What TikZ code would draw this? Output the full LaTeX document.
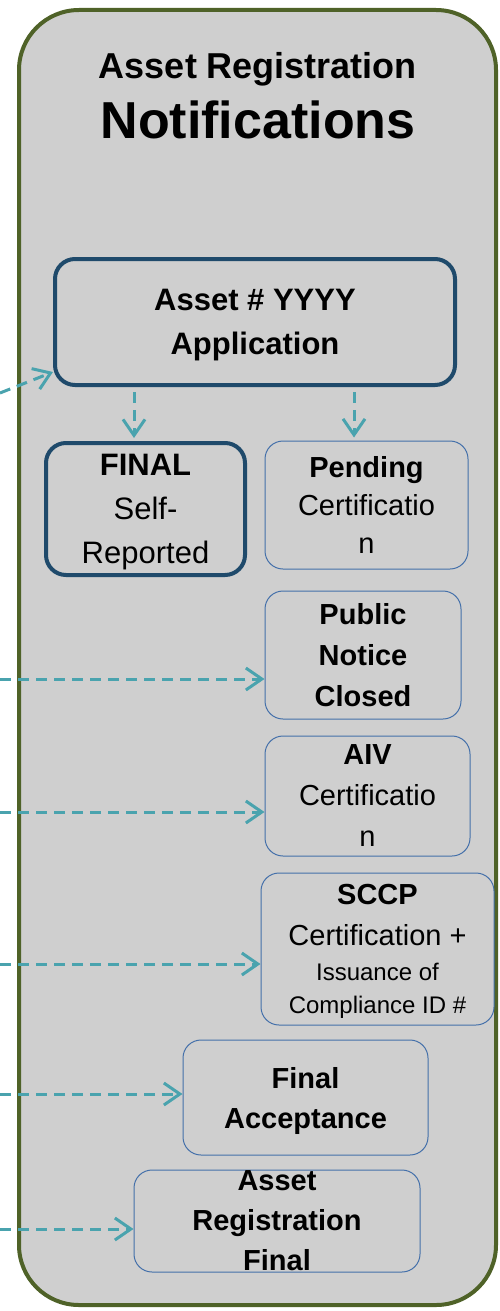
\documentclass[tikz,border=0pt]{standalone}
\usepackage{fontspec}
\setmainfont{Liberation Sans}
\usepackage{tikz}
\usetikzlibrary{arrows.meta}

\definecolor{panelgreen}{HTML}{4F6228}
\definecolor{panelgray}{HTML}{CFCFCF}
\definecolor{boxblue}{HTML}{1F4A6B}
\definecolor{thinblue}{HTML}{4470AA}
\definecolor{flowteal}{HTML}{4AA3AE}

\begin{document}
\begin{tikzpicture}[x=1pt, y=-1pt,
    every node/.style={align=center, inner sep=0pt, text depth=0pt},
    stage/.style={draw=thinblue, line width=1pt, rounded corners=18pt, font=\fontsize{29}{41}\selectfont},
    mainstage/.style={draw=boxblue, line width=4pt, rounded corners=20pt, font=\fontsize{31}{44}\selectfont},
    flow/.style={draw=flowteal, line width=3pt, dash pattern=on 11pt off 7pt,
        -{Straight Barb[length=16pt, width=22pt, line width=3pt]}}]
    \useasboundingbox (0,0) rectangle (500,1311);

    % Nodes
    \node (panel) [draw=panelgreen, fill=panelgray, line width=4pt, rounded corners=60pt,
        minimum width=477pt, minimum height=1295pt] at (257.5,657.5) {};
    \node (title) [font=\fontsize{36}{60}\selectfont\bfseries] at (258,95)
        {Asset Registration\\{\fontsize{52}{60}\selectfont Notifications}};

    \node (app) [mainstage, minimum width=400pt, minimum height=126pt, font=\fontsize{31}{44}\selectfont\bfseries]
        at (255,322) {Asset \# YYYY\\Application};
    \node (final) [mainstage, minimum width=199pt, minimum height=132pt] at (145.5,509)
        {{\bfseries FINAL}\\Self-\\Reported};
    \node (pending) [stage, minimum width=203pt, minimum height=128pt, font=\fontsize{29}{38}\selectfont]
        at (366.5,505) {{\bfseries Pending}\\Certificatio\\n};
    \node (public) [stage, minimum width=196pt, minimum height=128pt, font=\fontsize{29}{41}\selectfont\bfseries]
        at (363,655) {Public\\Notice\\Closed};
    \node (aiv) [stage, minimum width=205pt, minimum height=120pt] at (367.5,796)
        {{\bfseries AIV}\\Certificatio\\n};
    \node (sccp) [stage, minimum width=233pt, minimum height=152pt] at (377.5,949)
        {{\bfseries SCCP}\\Certification +\\[-6pt]{\fontsize{24}{35}\selectfont Issuance of}\\[-8pt]
         {\fontsize{24}{33}\selectfont Compliance ID \#}};
    \node (accept) [stage, minimum width=245pt, minimum height=115pt, font=\fontsize{29}{40}\selectfont\bfseries]
        at (305.5,1097.5) {Final\\Acceptance};
    \node (regfinal) [stage, minimum width=286pt, minimum height=102pt, font=\fontsize{29}{40}\selectfont\bfseries]
        at (277,1221) {Asset\\Registration\\Final};

    % Incoming ends
    \coordinate (in1) at (0,393);
    \coordinate (in2) at (0,679);
    \coordinate (in3) at (0,812);
    \coordinate (in4) at (0,964);
    \coordinate (in5) at (0,1094);
    \coordinate (in6) at (0,1229);

    % Edges
    \draw[flow] (in1) -- ([yshift=15pt]app.south west);
    \draw[flow, shorten <=5pt, shorten >=3pt] ([xshift=-11.5pt]final.north |- app.south) -- ([xshift=-11.5pt]final.north);
    \draw[flow, shorten <=5pt, shorten >=3pt] ([xshift=-12.5pt]pending.north |- app.south) -- ([xshift=-12.5pt]pending.north);
    \draw[flow] (in2) -- (in2 -| public.west);
    \draw[flow] (in3) -- (in3 -| aiv.west);
    \draw[flow] (in4) -- (in4 -| sccp.west);
    \draw[flow] (in5) -- (in5 -| accept.west);
    \draw[flow] (in6) -- (in6 -| regfinal.west);
\end{tikzpicture}
\end{document}
